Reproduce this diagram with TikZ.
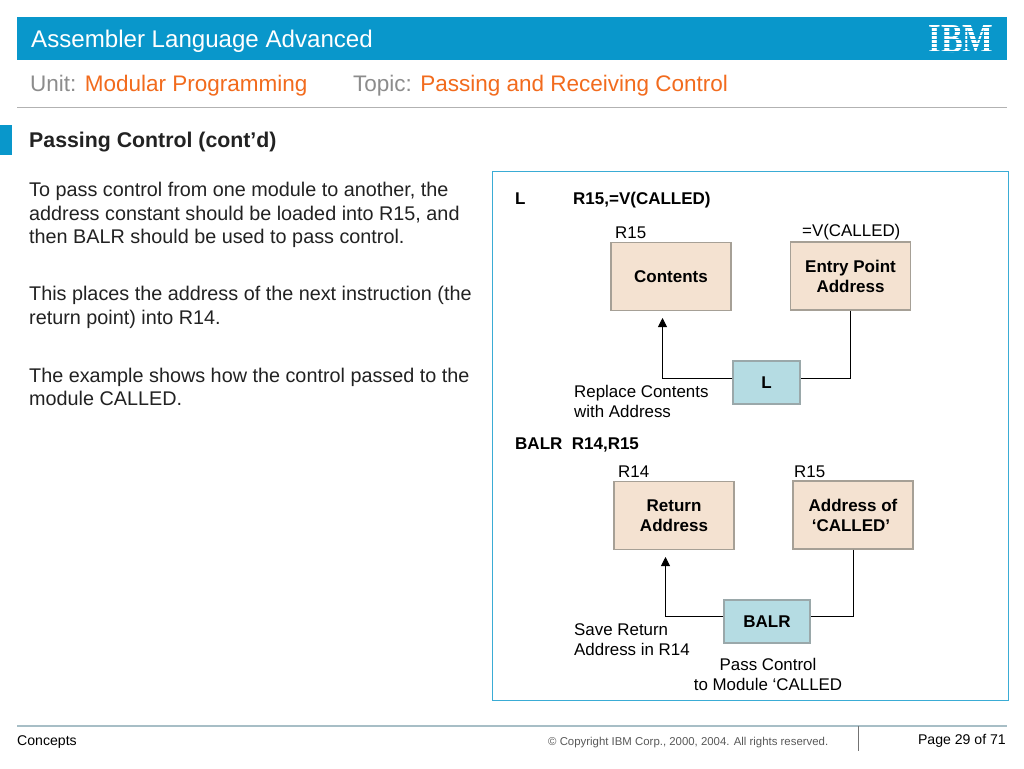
\documentclass[tikz,border=0pt]{standalone}
\usepackage{fontspec}
\setmainfont{Liberation Sans}
\newfontfamily\logofont{Liberation Serif}
\usetikzlibrary{arrows.meta}
\definecolor{ibmblue}{HTML}{0997CB}
\definecolor{unitgray}{HTML}{8C8C8C}
\definecolor{toporange}{HTML}{F26B1D}
\definecolor{regfill}{HTML}{F4E2D1}
\definecolor{regline}{HTML}{A6A096}
\definecolor{opfill}{HTML}{B5DCE3}
\definecolor{opline}{HTML}{9AA8AA}
\definecolor{inktext}{HTML}{222222}
\tikzset{
  regbox/.style={draw=regline,line width=1.1pt,fill=regfill,minimum width=120pt,minimum height=68pt,inner sep=0pt,align=center,font=\fontsize{17}{20}\selectfont\bfseries},
  opbox/.style={draw=opline,line width=1.1pt,fill=opfill,minimum height=43pt,inner sep=0pt,font=\fontsize{17}{20}\selectfont\bfseries},
  lbl/.style={inner sep=0pt,anchor=west,align=left,font=\fontsize{16.9}{20}\selectfont},
  codelbl/.style={inner sep=0pt,anchor=west,font=\fontsize{17}{20}\selectfont\bfseries},
  bodytxt/.style={inner sep=0pt,anchor=north west,align=left,text=inktext,font=\fontsize{19.8}{23.7}\selectfont},
  link/.style={draw=black,line width=0.9pt},
  linkarrow/.style={link,-{Triangle[length=9pt,width=9pt]}}
}
\begin{document}
\begin{tikzpicture}[x=1pt,y=-1pt]
  \useasboundingbox[fill=white] (0,0) rectangle (1024,768);
  % header
  \fill[ibmblue] (17,17) rectangle (1007,60);
  \node[inner sep=0pt,anchor=west,text=white,font=\fontsize{24.1}{28}\selectfont] (title) at (31,41) {Assembler Language Advanced};
  \node[inner sep=0pt,text=white,font=\logofont\bfseries] (logo) at (961,39) {\resizebox{65pt}{27pt}{IBM}};
  \foreach \ystripe in {28,32,36,40,44,48,52}
    \draw[ibmblue,line width=1pt] (925,\ystripe) -- (998,\ystripe);
  \node[inner sep=0pt,anchor=west,text=unitgray,font=\fontsize{22.5}{26}\selectfont] (unit) at (30,86) {Unit: \textcolor{toporange}{Modular Programming}};
  \node[inner sep=0pt,anchor=west,text=unitgray,font=\fontsize{22.5}{26}\selectfont] (topic) at (353,86) {Topic: \textcolor{toporange}{Passing and Receiving Control}};
  \draw[color=black!30,line width=1pt] (17,107) -- (1007,107);
  \fill[ibmblue] (0,125) rectangle (12,155);
  \node[inner sep=0pt,anchor=west,text=inktext,font=\fontsize{21.3}{24}\selectfont\bfseries] (head) at (29,142) {Passing Control (cont’d)};
  % left text
  \node[bodytxt] (para1) at (29,182) {To pass control from one module to another, the\\address constant should be loaded into R15, and\\then BALR should be used to pass control.};
  \node[bodytxt] (para2) at (29,286) {This places the address of the next instruction (the\\return point) into R14.};
  \node[bodytxt] (para3) at (29,367.5) {The example shows how the control passed to the\\module CALLED.};
  % right panel
  \draw[color=ibmblue!80,line width=1pt,fill=white] (492,171) rectangle (1008,700);
  \node[codelbl] (loadop) at (515,198.5) {L};
  \node[codelbl] (loadarg) at (573,200) {R15,=V(CALLED)};
  \node[lbl] (r15a) at (615,233) {R15};
  \node[lbl] (vcon) at (802,232) {=V(CALLED)};
  \node[regbox] (contents) at (671,276.5) {Contents};
  \node[regbox] (entry) at (850.5,276) {Entry Point\\Address};
  \node[opbox,minimum width=67pt] (lbox) at (766.5,382.5) {L};
  \coordinate (lhead) at (662.5,318);
  \path[link] (entry.south) |- (lbox.east |- 0,378.5);
  \path[linkarrow] (lbox.west |- 0,378.5) -| (lhead);
  \node[lbl] (replace) at (574,401.5) {Replace Contents\\with Address};
  \node[codelbl] (balrop) at (515,444.5) {BALR\ \ R14,R15};
  \node[lbl] (r14) at (618,472) {R14};
  \node[lbl] (r15b) at (794,472) {R15};
  \node[regbox] (ret) at (674,515.5) {Return\\Address};
  \node[regbox] (called) at (853,515) {Address of\\\hspace{-4pt}‘CALLED’};
  \node[opbox,minimum width=86pt] (balr) at (767,621.5) {BALR};
  \coordinate (bhead) at (665.5,557);
  \path[link] (called.south) |- (balr.east |- 0,616.5);
  \path[linkarrow] (balr.west |- 0,616.5) -| (bhead);
  \node[lbl] (save) at (574,640) {Save Return\\Address in R14};
  \node[inner sep=0pt,align=center,font=\fontsize{16.9}{20}\selectfont] (pass) at (768,674.5) {Pass Control\\to Module ‘CALLED};
  % footer
  \draw[color=ibmblue!45!black!35,line width=1.2pt] (17,726) -- (1007,726);
  \draw[color=black!55,line width=0.8pt] (858,726) -- (858,751);
  \node[inner sep=0pt,anchor=west,font=\fontsize{14.1}{16}\selectfont] (concepts) at (17,742) {Concepts};
  \node[inner sep=0pt,anchor=west,text=black!65,font=\fontsize{11.4}{14}\selectfont] (copy) at (548,743) {© Copyright IBM Corp., 2000, 2004. All rights reserved.};
  \node[inner sep=0pt,anchor=east,font=\fontsize{14.1}{16}\selectfont] (page) at (1006,740.5) {Page 29 of 71};
\end{tikzpicture}
\end{document}
